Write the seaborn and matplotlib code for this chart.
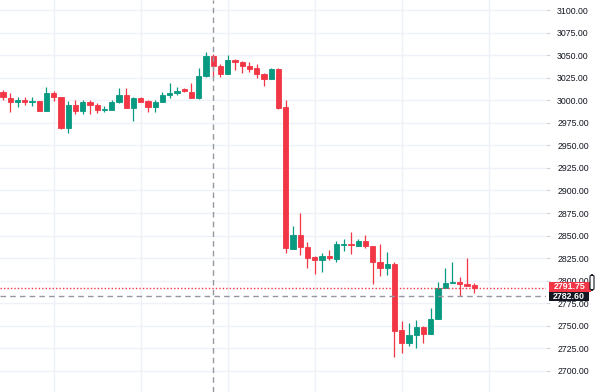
import numpy as np
import pandas as pd
import matplotlib
matplotlib.use("Agg")
import matplotlib.pyplot as plt
from matplotlib.patches import FancyBboxPatch, Rectangle
import seaborn as sns

# ---- data ----
opens = [3009.5, 3002.5, 2998.1, 3000.6, 2997.7, 2999.2, 2988.4, 3008.0, 3003.3, 2968.9,
         2994.7, 2988.4, 2998.1, 2994.7, 2989.2, 2989.2, 2997.7, 3005.8, 2991.1, 3002.2,
         2999.2, 2992.2, 2998.4, 3005.8, 3007.7, 3012.1, 3009.5, 3002.8, 3026.9, 3049.4,
         3038.3, 3029.1, 3044.6, 3042.1, 3038.3, 3036.1, 3029.1, 3023.2, 3034.3, 2992.2,
         2835.7, 2850.7, 2837.7, 2826.3, 2822.7, 2827.8, 2824.1, 2840.0, 2840.7, 2838.9,
         2844.0, 2838.2, 2821.1, 2813.8, 2818.2, 2745.4, 2730.7, 2739.9, 2749.1, 2740.7,
         2757.3, 2791.6, 2797.2, 2799.0, 2796.1, 2795.3]
closes = [3003.3, 2998.1, 3000.3, 2998.1, 2999.2, 2988.4, 3008.4, 3003.3, 2968.9, 2994.7,
          2988.4, 2998.1, 2994.7, 2989.2, 2990.0, 2998.5, 3005.8, 2991.1, 3002.2, 2998.4,
          2992.9, 2997.7, 3005.8, 3007.7, 3010.3, 3010.3, 3002.2, 3026.9, 3049.4, 3038.3,
          3029.1, 3044.6, 3042.1, 3038.3, 3034.6, 3029.1, 3023.2, 3034.3, 2991.8, 2835.9,
          2850.7, 2837.7, 2825.6, 2822.7, 2827.8, 2824.9, 2840.4, 2840.7, 2839.6, 2844.0,
          2838.2, 2821.1, 2813.8, 2818.2, 2744.3, 2730.7, 2739.9, 2749.1, 2740.7, 2757.3,
          2791.6, 2797.2, 2798.3, 2796.1, 2794.5, 2791.75]
highs = [3011.4, 3007.7, 3003.3, 3003.3, 3003.3, 2999.5, 3015.0, 3010.6, 3003.6, 2999.2,
         3000.3, 3000.3, 3000.3, 2997.3, 2993.6, 3000.3, 3013.2, 3013.2, 3004.0, 3004.0,
         3000.3, 3000.3, 3009.1, 3018.8, 3015.0, 3013.2, 3018.8, 3036.1, 3053.8, 3050.9,
         3040.2, 3050.1, 3045.7, 3043.5, 3042.1, 3039.8, 3029.9, 3035.7, 3035.7, 3000.3,
         2860.7, 2874.7, 2842.6, 2827.8, 2830.4, 2834.6, 2844.0, 2845.9, 2853.7, 2846.3,
         2850.7, 2838.2, 2840.4, 2832.2, 2821.1, 2755.4, 2752.9, 2756.5, 2750.2, 2769.5,
         2798.3, 2814.5, 2821.1, 2804.5, 2824.9, 2797.2]
lows = [3000.3, 2987.3, 2992.9, 2994.4, 2993.6, 2988.0, 2988.0, 2999.2, 2968.0, 2963.4,
        2984.8, 2984.8, 2984.8, 2986.2, 2987.3, 2989.0, 2997.5, 2991.0, 2977.0, 2997.7,
        2987.3, 2987.3, 2997.7, 3002.8, 3005.8, 3009.5, 3002.0, 3001.4, 3026.1, 3026.1,
        3026.1, 3029.0, 3033.5, 3030.5, 3031.0, 3024.3, 3016.1, 3023.2, 2990.3, 2831.0,
        2835.5, 2828.5, 2813.8, 2807.2, 2810.0, 2822.7, 2820.4, 2833.3, 2829.3, 2838.9,
        2835.9, 2796.1, 2805.6, 2806.4, 2715.9, 2719.6, 2728.0, 2725.2, 2730.7, 2740.7,
        2757.3, 2791.6, 2797.2, 2783.4, 2794.5, 2786.1]
price_ticks = [2700, 2725, 2750, 2775, 2800, 2825, 2850, 2875, 2900, 2925, 2950,
               2975, 3000, 3025, 3050, 3075, 3100]
time_grid = [7, 19, 31, 43, 55, 67]
last_price = 2791.75
cross_price = 2782.60
cross_bar = 29

UP = "#089981"
DOWN = "#F23645"
YMIN, YMAX = 2676.7, 3111.1

df = pd.DataFrame({"open": opens, "high": highs, "low": lows, "close": closes})
df["idx"] = np.arange(len(df))
df["up"] = df["close"] >= df["open"]
df["color"] = np.where(df["up"], UP, DOWN)
df["bottom"] = df[["open", "close"]].min(axis=1)
df["height"] = (df["close"] - df["open"]).abs().clip(lower=1.0)

sns.set_style("white")
plt.rcParams["font.family"] = ["Liberation Sans", "DejaVu Sans"]

fig = plt.figure(figsize=(6.0, 3.92), dpi=100)
ax = fig.add_axes([0, 0, 546 / 600, 1])

ax.set_ylim(YMIN, YMAX)
ax.set_xlim(-0.414, 74.9)

# grid
for p in price_ticks:
    ax.axhline(p, color="#eef1f7", lw=1.0, zorder=0)
for g in time_grid:
    ax.axvline(g, color="#eef1f7", lw=1.0, zorder=0)

# wicks
ax.vlines(df["idx"], df["low"], df["high"], colors=df["color"], lw=0.9, zorder=2)
# bodies
ax.bar(df["idx"], df["height"], bottom=df["bottom"], width=0.74,
       color=df["color"], edgecolor=df["color"], linewidth=0.6, zorder=3)

# last price dotted line
ax.axhline(last_price, color=DOWN, lw=1.0, ls=(0, (1, 1.5)), zorder=4)
# crosshair
ax.axhline(cross_price, color="#9598a1", lw=1.0, ls=(0, (4, 3)), zorder=4)
ax.axvline(cross_bar, color="#9598a1", lw=1.0, ls=(0, (4, 3)), zorder=4)

# axes styling
for s in ax.spines.values():
    s.set_visible(False)
ax.set_xticks([])
ax.yaxis.tick_right()
ax.set_yticks(price_ticks)
ax.set_yticklabels([f"{p:.2f}" for p in price_ticks], fontsize=6.3, color="#131722")
ax.tick_params(axis="y", length=3, width=0.8, color="#d1d4dc", pad=5)
ax.set_facecolor("white")

# price badges on the scale (explicit boxes so they just touch)
def badge(top_px, bottom_px, text, fc, x0=549, x1=591):
    H = 392.0
    fig.patches.append(Rectangle((x0 / 600, 1 - bottom_px / H), (x1 - x0) / 600,
                                 (bottom_px - top_px) / H, transform=fig.transFigure,
                                 fc=fc, ec="none", zorder=5))
    fig.text((x0 + x1) / 2 / 600, 1 - (top_px + bottom_px) / 2 / H, text,
             fontsize=6.4, color="white", ha="center", va="center",
             fontweight="bold", zorder=6)

badge(281.5, 291.5, f"{last_price:.2f}", DOWN)
badge(291.5, 301.0, f"{cross_price:.2f}", "#131722", x1=589)

# small scale-handle icon
icon = FancyBboxPatch((590 / 600, 1 - 290 / 392), 4 / 600, 15 / 392,
                      boxstyle="round,pad=0.0,rounding_size=0.004",
                      transform=fig.transFigure, fc="white", ec="#131722", lw=0.8,
                      zorder=6)
fig.patches.append(icon)

fig.savefig("out.png", dpi=100, facecolor="white")
